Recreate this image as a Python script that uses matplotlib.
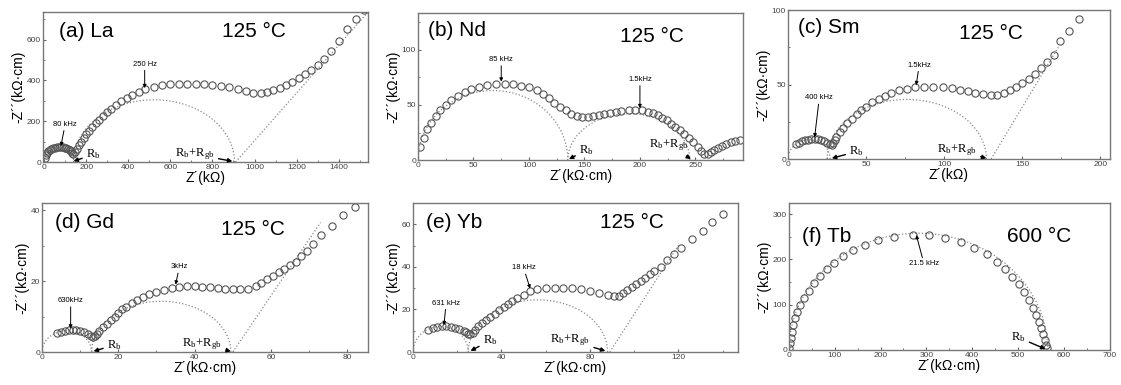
import matplotlib
matplotlib.use("Agg")
import matplotlib.pyplot as plt
from matplotlib.patches import Arc
from matplotlib.ticker import MultipleLocator

plt.rcParams['font.family'] = ['Liberation Sans', 'DejaVu Sans']
plt.rcParams['mathtext.fontset'] = 'custom'
plt.rcParams['mathtext.rm'] = 'Liberation Serif'
plt.rcParams['mathtext.it'] = 'Liberation Serif:italic'

# (a) La, 125 C
la_x = [3, 8, 14, 20, 27, 35, 43, 52, 61, 70, 79, 88, 97, 106, 114, 121, 128, 134, 139,
        146, 155, 165, 176, 188, 201, 215, 230, 246, 263, 281, 300, 320, 342, 366, 392, 420, 450, 480,
        520, 560, 600, 640, 680, 720, 760, 800, 840, 880, 920, 960,
        995, 1030, 1060, 1090, 1120, 1150, 1180, 1210, 1240, 1270, 1300, 1330, 1365, 1400, 1440, 1480, 1520]
la_y = [22, 35, 45, 53, 59, 64, 68, 70, 72, 73, 73, 72, 70, 67, 63, 58, 52, 46, 42,
        50, 65, 82, 100, 118, 136, 154, 172, 190, 208, 226, 244, 262, 281, 300, 316, 330, 345, 358,
        368, 375, 380, 383, 384, 384, 382, 379, 374, 367, 358, 347,
        338, 338, 343, 352, 363, 376, 392, 410, 430, 452, 477, 505, 545, 595, 650, 700, 745]
la_arcs = [(0, 140, 70), (140, 905, 305)]
la_line = ([910, 1540], [0, 735])

# (b) Nd, 125 C
nd_x = [2, 5, 8, 12, 16, 20, 25, 30, 36, 42, 48, 55, 62, 70, 78, 86, 93, 100, 107, 113, 118, 123, 128,
        133, 138, 143, 148, 153, 158, 163, 168, 173, 178, 183, 190, 196, 202, 207, 212, 216, 220, 224,
        228, 232, 236, 240, 244, 248, 252, 255, 258, 261, 264, 267, 270, 274, 278, 282, 286, 290]
nd_y = [12, 20, 28, 34, 40, 45, 50, 54, 58, 62, 64, 66, 68, 68.5, 69, 68.5, 67.5, 66, 63.5, 60, 56, 52, 48,
        45, 42, 40, 39, 39, 39.5, 40.5, 42, 43, 44, 44.5, 45, 45.5, 45, 44, 42.5, 40.5, 38.5, 36,
        33, 30, 27, 23.5, 20, 16, 12, 8, 6, 6, 7.5, 9, 11, 13, 15, 16, 17, 18]
nd_arcs = [(0, 135, 63), (135, 245, 42)]
nd_line = None

# (c) Sm, 125 C
sm_x = [5, 7, 9, 11, 13, 15, 17, 19, 21, 23, 25, 27, 28,
        29, 30, 31, 33, 35, 38, 41, 44, 47, 50, 54, 58, 62, 66, 71, 76, 81, 87, 93, 99,
        105, 110, 115, 120, 125, 130, 134, 138, 142, 146, 150, 154, 158, 162, 166, 170, 174, 180, 186]
sm_y = [10, 11, 12, 12.5, 13, 13.3, 13.5, 13.3, 13, 12, 11, 10, 9.5,
        11, 13, 15, 18, 21, 24, 27, 30, 33, 35, 38, 40, 42, 44, 46, 47, 48, 48.5, 48.5, 48.2,
        47.5, 46.5, 45.5, 44.5, 43.5, 43, 43, 44, 46, 48.5, 51, 54, 57, 61, 65, 70, 79, 86, 94]
sm_arcs = [(0, 27, 13), (25, 127, 40)]
sm_line = ([130, 173], [0, 75])

# (d) Gd, 125 C
gd_x = [4, 5, 6, 7, 8, 9, 10, 11, 12, 12.8, 13.3, 13.8, 14.3, 15, 16, 17, 18, 19, 20, 21, 22,
        23.5, 25, 26.5, 28, 30, 32, 34, 36, 38, 40, 42, 44, 46, 48, 50, 52, 54, 56, 57.5, 59,
        60.5, 62, 63.5, 65, 66.5, 68, 69.5, 71, 73, 76, 79, 82]
gd_y = [5.3, 5.7, 6, 6.2, 6.2, 6.1, 5.9, 5.5, 5, 4.5, 4.2, 4.5, 5.2, 6, 7, 8, 9, 10, 11, 12, 12.8,
        13.8, 14.8, 15.6, 16.3, 17, 17.6, 18.1, 18.4, 18.5, 18.5, 18.4, 18.2, 18, 17.9, 17.8, 17.8, 17.9, 18.5, 19.5, 20.5,
        21.5, 22.5, 23.5, 24.5, 25.5, 27, 28.5, 30.5, 33, 35.5, 38.5, 41]
gd_arcs = [(0, 13, 6), (13, 49.5, 14.3)]
gd_line = ([50, 73], [0, 36.5])

# (e) Yb, 125 C
yb_x = [7, 9, 11, 13, 15, 17, 19, 21, 23, 24, 25, 26, 27, 28, 29.5, 31, 33, 35, 37, 39, 41, 43, 45, 47,
        50, 53, 56, 60, 64, 68, 72, 76, 80, 84, 88, 91, 93, 95, 97, 99, 101, 103, 105, 107, 109,
        112, 115, 118, 121, 126, 131, 135, 140]
yb_y = [10.5, 11.2, 11.8, 12, 12, 11.8, 11.4, 10.8, 10, 9.2, 8.5, 8.3, 9, 10.5, 12, 13.5, 15, 16.5, 18, 19.5, 21, 22.5, 24, 25.5,
        27, 28.5, 29.5, 30, 30.3, 30.3, 30, 29.5, 28.5, 27.5, 27, 26.5, 26.5, 27.5, 29, 30.5, 32, 33.5, 35, 36.5, 38,
        40, 43, 46, 49, 53, 57, 61, 65]
yb_arcs = [(0, 25, 12), (25, 88, 24.5)]
yb_line = ([89, 120], [0, 50])

# (f) Tb, 600 C
tb_x = [1, 2, 4, 6, 9, 13, 18, 25, 33, 43, 55, 68, 82, 98, 117, 140, 166, 195, 230, 270, 305, 340,
        375, 405, 432, 455, 472, 488, 502, 514, 524, 533, 540, 546, 551, 555, 558, 561, 564]
tb_y = [5, 15, 27, 40, 55, 70, 85, 100, 115, 130, 147, 163, 178, 193, 207, 220, 232, 242, 250, 255, 254, 248,
        238, 225, 211, 195, 180, 162, 145, 127, 110, 93, 77, 62, 48, 35, 23, 12, 5]
tb_arcs = [(0, 565, 258)]
tb_line = None

GREY = '#555555'


def draw_panel(ax, x, y, arcs, line, xlim, ylim, xmaj, xmin, ymaj, ymin, xlabel):
    for s, e, h in arcs:
        ax.add_patch(Arc(((s + e) / 2, 0), e - s, 2 * h, theta1=0, theta2=180,
                         color='#888888', lw=0.9, ls=':'))
    if line is not None:
        ax.plot(line[0], line[1], color='#888888', lw=0.9, ls=':')
    ax.plot(x, y, 'o', mfc='none', mec=GREY, ms=5.2, mew=0.8)
    ax.set_xlim(xlim)
    ax.set_ylim(ylim)
    ax.xaxis.set_major_locator(MultipleLocator(xmaj))
    ax.xaxis.set_minor_locator(MultipleLocator(xmin))
    ax.yaxis.set_major_locator(MultipleLocator(ymaj))
    ax.yaxis.set_minor_locator(MultipleLocator(ymin))
    ax.tick_params(which='both', direction='in', labelsize=6, labelcolor='#444444', color='#666666', pad=1.5)
    ax.tick_params(which='major', length=2.5)
    ax.tick_params(which='minor', length=1.5)
    for sp in ax.spines.values():
        sp.set_color('#777777')
        sp.set_linewidth(1.0)
    ax.set_xlabel(xlabel, fontsize=10, labelpad=0)
    ax.set_ylabel('-Z´´(kΩ·cm)', fontsize=10, labelpad=1)


def note(ax, txt, tip, at, size=5.5):
    ax.annotate(txt, xy=tip, xytext=at, fontsize=size, ha='center', va='center',
                arrowprops=dict(arrowstyle='-|>', color='k', lw=0.7, mutation_scale=5, shrinkA=0, shrinkB=0))


def rnote(ax, txt, tip, at):
    ax.annotate(txt, xy=tip, xytext=at, fontsize=9, ha='center', va='center',
                arrowprops=dict(arrowstyle='-|>', color='k', lw=1.0, mutation_scale=6, shrinkA=1, shrinkB=0))


def titles(ax, label, temp, lpos=(0.05, 0.87), tpos=(0.55, 0.87)):
    ax.text(lpos[0], lpos[1], label, transform=ax.transAxes, fontsize=15, va='center', ha='left')
    ax.text(tpos[0], tpos[1], temp, transform=ax.transAxes, fontsize=15, va='center', ha='left')


fig = plt.figure(figsize=(11.21, 3.85), dpi=100)

ax_a = fig.add_axes([0.0384, 0.579, 0.290, 0.390])
ax_b = fig.add_axes([0.3729, 0.584, 0.290, 0.382])
ax_c = fig.add_axes([0.7030, 0.587, 0.287, 0.387])
ax_d = fig.add_axes([0.0375, 0.0857, 0.291, 0.387])
ax_e = fig.add_axes([0.3684, 0.0857, 0.290, 0.387])
ax_f = fig.add_axes([0.7038, 0.091, 0.286, 0.382])

RB = r'$\mathrm{R_b}$'
RBG = r'$\mathrm{R_b\!+\!R_{gb}}$'

draw_panel(ax_a, la_x, la_y, la_arcs, la_line, (-5, 1540), (0, 735), 200, 100, 200, 100, 'Z´(kΩ)')
titles(ax_a, '(a) La', '125 °C', (0.05, 0.87), (0.55, 0.87))
note(ax_a, '80 kHz', (80, 78), (100, 185))
note(ax_a, '250 Hz', (478, 362), (478, 480))
rnote(ax_a, RB, (140, 4), (235, 38))
rnote(ax_a, RBG, (895, 4), (715, 38))

draw_panel(ax_b, nd_x, nd_y, nd_arcs, nd_line, (0, 293), (0, 133), 50, 25, 50, 25, 'Z´(kΩ·cm)')
titles(ax_b, '(b) Nd', '125 °C', (0.03, 0.88), (0.62, 0.84))
note(ax_b, '85 kHz', (75, 71), (75, 91))
note(ax_b, '1.5kHz', (200, 47), (200, 73))
rnote(ax_b, RB, (136, 1), (152, 9))
rnote(ax_b, RBG, (246, 1), (226, 14))

draw_panel(ax_c, sm_x, sm_y, sm_arcs, sm_line, (0, 206), (0, 100), 50, 25, 50, 25, 'Z´(kΩ)')
titles(ax_c, '(c) Sm', '125 °C', (0.03, 0.88), (0.53, 0.84))
note(ax_c, '400 kHz', (17, 14.5), (20, 41))
note(ax_c, '1.5kHz', (82, 49.5), (84, 63))
rnote(ax_c, RB, (28, 0.5), (44, 5))
rnote(ax_c, RBG, (127, 0.5), (108, 6))

draw_panel(ax_d, gd_x, gd_y, gd_arcs, gd_line, (0, 85.5), (0, 42), 20, 10, 20, 10, 'Z´(kΩ·cm)')
titles(ax_d, '(d) Gd', '125 °C', (0.04, 0.87), (0.55, 0.82))
note(ax_d, '630kHz', (7.5, 6.6), (7.5, 14.5))
note(ax_d, '3kHz', (35, 19), (36, 24))
rnote(ax_d, RB, (13.5, 0.2), (19, 2))
rnote(ax_d, RBG, (49.5, 0.2), (42, 2.2))

draw_panel(ax_e, yb_x, yb_y, yb_arcs, yb_line, (0, 147), (0, 70), 40, 20, 20, 10, 'Z´(kΩ·cm)')
titles(ax_e, '(e) Yb', '125 °C', (0.04, 0.87), (0.575, 0.87))
note(ax_e, '631 kHz', (14, 12.6), (15, 23))
note(ax_e, '18 kHz', (53, 29.8), (50, 39.5))
rnote(ax_e, RB, (26, 0.5), (35, 5.5))
rnote(ax_e, RBG, (87, 0.5), (71, 5.5))

draw_panel(ax_f, tb_x, tb_y, tb_arcs, tb_line, (0, 700), (0, 325), 100, 50, 100, 50, 'Z´(kΩ·cm)')
titles(ax_f, '(f) Tb', '600 °C', (0.04, 0.77), (0.68, 0.77))
note(ax_f, '21.5 kHz', (278, 254), (295, 190))
rnote(ax_f, RB, (560, 2), (500, 28))

fig.savefig('out.png', dpi=100)
